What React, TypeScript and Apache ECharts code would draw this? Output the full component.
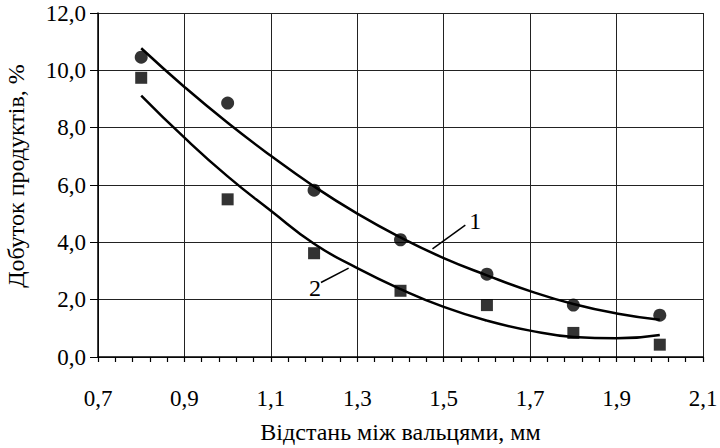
import React, { useEffect, useRef } from "react";
import * as echarts from "echarts";

const xPoints = [0.8, 1.0, 1.2, 1.4, 1.6, 1.8, 2.0];
const series1Values = [10.46, 8.86, 5.82, 4.09, 2.89, 1.81, 1.46];
const series2Values = [9.74, 5.5, 3.62, 2.31, 1.81, 0.84, 0.43];

const trendX = [0.8, 0.9, 1.0, 1.1, 1.2, 1.3, 1.4, 1.5, 1.6, 1.7, 1.8, 1.9, 2.0];
const trend1Values = [10.77, 9.42, 8.17, 7.02, 5.95, 5.0, 4.17, 3.45, 2.85, 2.3, 1.85, 1.52, 1.3];
const trend2Values = [9.12, 7.65, 6.3, 5.1, 3.95, 3.1, 2.37, 1.75, 1.27, 0.92, 0.7, 0.65, 0.77];

const leader1 = [[1.474, 3.77], [1.55, 4.6]];
const leader1Label = "1";
const leader2 = [[1.28, 3.1], [1.216, 2.6]];
const leader2Label = "2";

const xTicks = ["0,7", "0,9", "1,1", "1,3", "1,5", "1,7", "1,9", "2,1"];

const FONT = "Times New Roman, Liberation Serif, serif";

export default function App() {
  const ref = useRef<HTMLDivElement>(null);
  useEffect(() => {
    if (!ref.current) return;
    const chart = echarts.init(ref.current, null, { renderer: "svg" });
    const zip = (xs: number[], ys: number[]) => xs.map((x, i) => [x, ys[i]]);
    chart.setOption({
      animation: false,
      backgroundColor: "#fff",
      textStyle: { fontFamily: FONT },
      grid: { left: 98, right: 17, top: 13, bottom: 91, containLabel: false, outerBoundsMode: "none" },
      xAxis: {
        type: "value",
        min: 0.7,
        max: 2.1,
        interval: 0.2,
        name: "Відстань між вальцями, мм",
        nameLocation: "middle",
        nameGap: 63,
        nameTextStyle: { fontFamily: FONT, fontSize: 24, color: "#000" },
        axisLine: { show: true, onZero: false, lineStyle: { color: "#000", width: 1.5 } },
        axisTick: { show: true, inside: false, length: 5, lineStyle: { color: "#000", width: 1.2 } },
        minorTick: { show: true, splitNumber: 5, length: 5, lineStyle: { color: "#000", width: 1.2 } },
        splitLine: { show: true, lineStyle: { color: "#222", width: 1 } },
        axisLabel: {
          fontFamily: FONT,
          fontSize: 23,
          color: "#000",
          margin: 30,
          formatter: (v: number) => {
            const idx = Math.round((v - 0.7) / 0.2);
            return xTicks[idx] ?? "";
          },
        },
      },
      yAxis: {
        type: "value",
        min: 0,
        max: 12,
        interval: 2,
        name: "Добуток продуктів, %",
        nameLocation: "middle",
        nameGap: 70,
        nameTextStyle: { fontFamily: FONT, fontSize: 24, color: "#000", padding: [0, 0, 0, 18] },
        axisLine: { show: true, lineStyle: { color: "#000", width: 1.5 } },
        axisTick: { show: true, inside: false, length: 8, lineStyle: { color: "#000", width: 1 } },
        splitLine: { show: true, lineStyle: { color: "#222", width: 1 } },
        axisLabel: {
          fontFamily: FONT,
          fontSize: 23,
          color: "#000",
          margin: 12,
          formatter: (v: number) => v.toFixed(1).replace(".", ","),
        },
      },
      series: [
        {
          type: "line",
          data: zip(trendX, trend1Values),
          smooth: true,
          showSymbol: false,
          lineStyle: { color: "#000", width: 2.5 },
          z: 3,
        },
        {
          type: "line",
          data: zip(trendX, trend2Values),
          smooth: true,
          showSymbol: false,
          lineStyle: { color: "#000", width: 2.5 },
          z: 3,
        },
        {
          type: "scatter",
          data: zip(xPoints, series1Values),
          symbol: "circle",
          symbolSize: 13,
          itemStyle: { color: "#000" },
          z: 4,
        },
        {
          type: "scatter",
          data: zip(xPoints, series2Values),
          symbol: "rect",
          symbolSize: 12,
          itemStyle: { color: "#000" },
          z: 4,
        },
        {
          type: "line",
          data: leader1,
          showSymbol: false,
          lineStyle: { color: "#000", width: 1.5 },
          endLabel: {
            show: true,
            formatter: leader1Label,
            fontFamily: FONT,
            fontSize: 24,
            color: "#000",
            distance: 4,
            offset: [0, -4],
          },
          z: 3,
        },
        {
          type: "line",
          data: leader2,
          showSymbol: false,
          lineStyle: { color: "#000", width: 1.5 },
          endLabel: {
            show: true,
            formatter: leader2Label,
            fontFamily: FONT,
            fontSize: 24,
            color: "#000",
            distance: 4,
            align: "right",
            offset: [-4, 6],
          },
          z: 3,
        },
      ],
    });
    return () => chart.dispose();
  }, []);
  return <div ref={ref} style={{ width: 720, height: 448, position: "absolute", left: 0, top: 0 }} />;
}
